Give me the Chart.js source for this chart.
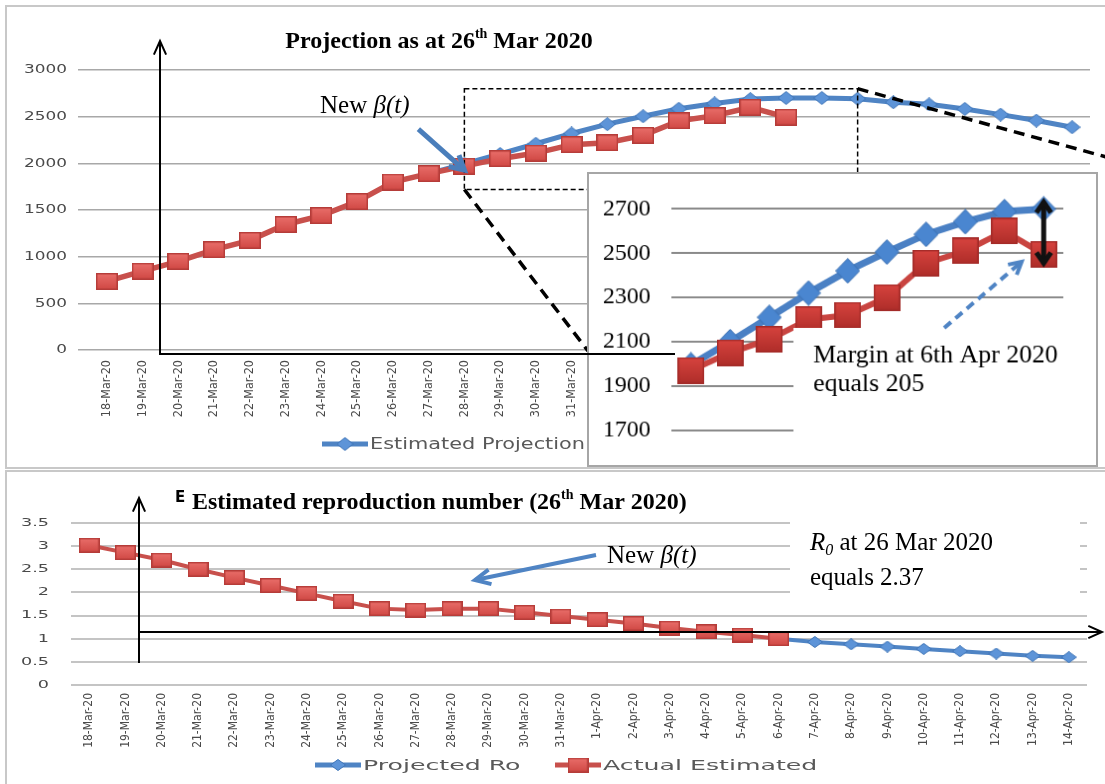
<!DOCTYPE html>
<html>
<head>
<meta charset="utf-8">
<title>Projection as at 26th Mar 2020</title>
<script src="https://cdn.jsdelivr.net/npm/chart.js@4.4.1/dist/chart.umd.min.js"></script>
<style>
  html, body { margin: 0; padding: 0; background: #fff; }
  body { position: relative; width: 1105px; height: 784px; overflow: hidden; }
  .frame { position: absolute; border: 2px solid #c8c8c8; box-sizing: border-box; }
  canvas { position: absolute; }
</style>
</head>
<body>
<div class="frame" style="left:5px;top:5px;width:1120px;height:464px"></div>
<div class="frame" style="left:5px;top:470px;width:1120px;height:330px"></div>
<canvas id="casesChart" width="1100" height="463" style="left:5px;top:5px"></canvas>
<canvas id="roChart" width="1100" height="314" style="left:5px;top:470px"></canvas>
<canvas id="zoomChart" width="511" height="295" style="left:587px;top:172px;background:#fff;border:2px solid #a6a6a6"></canvas>
<canvas id="overlay" width="1105" height="784" style="left:0;top:0;pointer-events:none"></canvas>
<script>
// data
const dates = ['18-Mar-20', '19-Mar-20', '20-Mar-20', '21-Mar-20', '22-Mar-20', '23-Mar-20', '24-Mar-20',
  '25-Mar-20', '26-Mar-20', '27-Mar-20', '28-Mar-20', '29-Mar-20', '30-Mar-20', '31-Mar-20',
  '1-Apr-20', '2-Apr-20', '3-Apr-20', '4-Apr-20', '5-Apr-20', '6-Apr-20', '7-Apr-20',
  '8-Apr-20', '9-Apr-20', '10-Apr-20', '11-Apr-20', '12-Apr-20', '13-Apr-20', '14-Apr-20'];

const actualCases = [735, 845, 950, 1075, 1175, 1345, 1440, 1590, 1800, 1890,
  1970, 2050, 2110, 2200, 2220, 2300, 2455, 2510, 2600, 2495];
const projectedCases = [null, null, null, null, null, null, null, null, null, 1890,
  1995, 2100, 2210, 2320, 2420, 2505, 2585, 2642, 2688, 2700,
  2700, 2692, 2655, 2632, 2583, 2522, 2458, 2387];

const actualRo = [3.02, 2.86, 2.70, 2.50, 2.32, 2.15, 1.98, 1.81, 1.65, 1.62,
  1.65, 1.65, 1.57, 1.49, 1.41, 1.33, 1.23, 1.15, 1.08, 1.00];
const projectedRo = [null, null, null, null, null, null, null, null, null, null,
  null, null, null, null, null, null, null, null, null, 1.00,
  0.93, 0.88, 0.83, 0.78, 0.73, 0.68, 0.63, 0.60];

const caseAxis = [0, 3000, 500];     // min, max, step
const zoomAxis = [1700, 2700, 200];
const roAxis = [0, 3.5, 0.5];

const zoomFrom = 10, zoomTo = 19;    // 28-Mar .. 6-Apr in the inset
const windowEnd = 21;                // dashed window reaches 8-Apr
const windowTop = 2800, windowBottom = 1720;

const BLUE = '#4f84c4', RED = '#c8504c', INK = '#4a4a4a';
const SERIF = '"Liberation Serif", "Times New Roman", serif';
const SANS = '"DejaVu Sans", sans-serif';
const NARROW = '"Liberation Sans Narrow", "DejaVu Sans Condensed", "Liberation Sans", sans-serif';

Chart.defaults.responsive = false;
Chart.defaults.animation = false;
Chart.defaults.events = [];
Chart.defaults.plugins.legend.display = false;
Chart.defaults.plugins.tooltip.enabled = false;

function makeSquare(w, h, top, bottom, edge) {
  const c = document.createElement('canvas');
  c.width = w; c.height = h;
  const g = c.getContext('2d');
  const grad = g.createLinearGradient(0, 0, 0, h);
  grad.addColorStop(0, top); grad.addColorStop(1, bottom);
  g.fillStyle = grad; g.fillRect(0, 0, w, h);
  g.strokeStyle = edge; g.lineWidth = 1.5; g.strokeRect(0.75, 0.75, w - 1.5, h - 1.5);
  return c;
}
function makeDiamond(w, h, fill, edge) {
  const c = document.createElement('canvas');
  c.width = w; c.height = h;
  const g = c.getContext('2d');
  g.beginPath();
  g.moveTo(w / 2, 0.5); g.lineTo(w - 0.5, h / 2); g.lineTo(w / 2, h - 0.5); g.lineTo(0.5, h / 2);
  g.closePath();
  g.fillStyle = fill; g.fill();
  g.strokeStyle = edge; g.lineWidth = 1; g.stroke();
  return c;
}

const squareTop = makeSquare(22, 17, '#ea6f6b', '#cf4743', '#b53c39');
const diamondTop = makeDiamond(17, 14, '#5d94d8', '#4176b8');
const squareZoom = makeSquare(27, 27, '#d8443f', '#ae2d29', '#a32b28');
const diamondZoom = makeDiamond(25, 26, '#4a86d0', '#3a6fb0');
const squareRo = makeSquare(21, 15, '#ea6f6b', '#cf4743', '#b53c39');
const diamondRo = makeDiamond(16, 12, '#5d94d8', '#4176b8');

function stretchText(ctx, text, x, y, sx, align) {
  const w = ctx.measureText(text).width * sx;
  const left = align === 'right' ? x - w : align === 'center' ? x - w / 2 : x;
  ctx.save();
  ctx.textAlign = 'left';
  ctx.translate(left, y); ctx.scale(sx, 1);
  ctx.fillText(text, 0, 0);
  ctx.restore();
  return left + w;
}

function richText(ctx, parts, x, y, align) {
  let total = 0;
  parts.forEach(p => { ctx.font = p[1]; total += ctx.measureText(p[0]).width; });
  let cx = align === 'center' ? x - total / 2 : x;
  ctx.textAlign = 'left'; ctx.textBaseline = 'alphabetic';
  parts.forEach(p => {
    ctx.font = p[1];
    ctx.fillText(p[0], cx, y + (p[2] || 0));
    cx += ctx.measureText(p[0]).width;
  });
}

function arrowLine(ctx, x1, y1, x2, y2, o) {
  ctx.save();
  ctx.strokeStyle = o.color; ctx.lineWidth = o.width;
  if (o.dash) ctx.setLineDash(o.dash);
  ctx.beginPath(); ctx.moveTo(x1, y1); ctx.lineTo(x2, y2); ctx.stroke();
  ctx.setLineDash([]);
  const a = Math.atan2(y2 - y1, x2 - x1), h = o.head, sp = o.spread || 0.5;
  const heads = o.both ? [[x2, y2, a], [x1, y1, a + Math.PI]] : [[x2, y2, a]];
  heads.forEach(([hx, hy, ang]) => {
    ctx.beginPath();
    ctx.moveTo(hx - h * Math.cos(ang - sp), hy - h * Math.sin(ang - sp));
    ctx.lineTo(hx, hy);
    ctx.lineTo(hx - h * Math.cos(ang + sp), hy - h * Math.sin(ang + sp));
    ctx.stroke();
  });
  ctx.restore();
}

function yLabels(chart, font, sx, gap) {
  const ctx = chart.ctx, s = chart.scales.y;
  ctx.save();
  ctx.font = font; ctx.fillStyle = INK; ctx.textBaseline = 'middle';
  s.ticks.forEach((t, i) => stretchText(ctx, String(t.value), chart.chartArea.left - gap, s.getPixelForTick(i), sx, 'right'));
  ctx.restore();
}

// items: [dataset, marker, x]
function legend(chart, items, y, font, sx) {
  const ctx = chart.ctx;
  ctx.save();
  ctx.font = font; ctx.fillStyle = '#595959'; ctx.textBaseline = 'middle';
  items.forEach(([ds, marker, x]) => {
    ctx.strokeStyle = ds.borderColor; ctx.lineWidth = 5;
    ctx.beginPath(); ctx.moveTo(x, y); ctx.lineTo(x + 46, y); ctx.stroke();
    ctx.drawImage(marker, x + 23 - marker.width / 2, y - marker.height / 2);
    stretchText(ctx, ds.label, x + 48, y + 1, sx, 'left');
  });
  ctx.restore();
}

const casesDecor = {
  id: 'casesDecor',
  afterDraw(chart) {
    const ctx = chart.ctx, xs = chart.scales.x, ys = chart.scales.y;
    yLabels(chart, '13px ' + SANS, 1.3, 22);

    ctx.save();
    ctx.fillStyle = '#000';
    richText(ctx, [['Projection as at 26', 'bold 24px ' + SERIF], ['th', 'bold 14px ' + SERIF, -10],
      [' Mar 2020', 'bold 24px ' + SERIF]], 434, 43, 'center');
    richText(ctx, [['New ', '25px ' + SERIF], ['\u03B2(t)', 'italic 25px ' + SERIF]], 315, 108);

    // dashed window that the inset zooms into
    const bx1 = xs.getPixelForValue(zoomFrom), bx2 = xs.getPixelForValue(windowEnd);
    const by1 = ys.getPixelForValue(windowTop), by2 = ys.getPixelForValue(windowBottom);
    ctx.strokeStyle = '#000'; ctx.lineWidth = 1.5; ctx.setLineDash([5, 3]);
    ctx.strokeRect(bx1, by1, bx2 - bx1, by2 - by1);
    ctx.lineWidth = 3.5; ctx.setLineDash([11, 7]);
    ctx.beginPath(); ctx.moveTo(bx1, by2); ctx.lineTo(583, 346); ctx.stroke();
    ctx.beginPath(); ctx.moveTo(bx2, by1); ctx.lineTo(1105, 153); ctx.stroke();
    ctx.setLineDash([]);

    // "New beta(t)" pointer
    const tx = xs.getPixelForValue(zoomFrom), ty = ys.getPixelForValue(actualCases[zoomFrom]) + 4;
    arrowLine(ctx, tx - 46, ty - 41, tx, ty, { color: '#4a7ebb', width: 5, head: 16, spread: 0.5 });
    ctx.restore();

    legend(chart, [[chart.data.datasets[0], diamondTop, 317], [chart.data.datasets[1], squareTop, 610]],
      439, '15px ' + SANS, 1.39);
  }
};

const zoomDecor = {
  id: 'zoomDecor',
  afterDraw(chart) {
    const ctx = chart.ctx, xs = chart.scales.x, ys = chart.scales.y;
    ctx.save();
    ctx.fillStyle = '#fff';
    ctx.fillRect(206, 156, 297, 106);

    const last = zoomTo - zoomFrom, mx = xs.getPixelForValue(last);
    arrowLine(ctx, mx, ys.getPixelForValue(projectedCases[zoomTo]) - 7, mx, ys.getPixelForValue(actualCases[zoomTo]) + 9,
      { color: '#111', width: 5, head: 13, spread: 0.6, both: true });
    arrowLine(ctx, 358, 156, 436, 89, { color: '#4f84c4', width: 4, head: 14, dash: [9, 6] });

    ctx.fillStyle = '#000';
    ctx.font = '26px ' + SERIF;
    ctx.fillText('Margin at 6th Apr 2020', 226, 191);
    ctx.fillText('equals 205', 226, 220);
    ctx.restore();
  }
};

const roDecor = {
  id: 'roDecor',
  afterDraw(chart) {
    const ctx = chart.ctx;
    yLabels(chart, '11px ' + SANS, 1.6, 22);
    ctx.save();
    ctx.fillStyle = '#000';
    ctx.font = 'bold 15px ' + SANS;
    ctx.fillText('E', 170, 32);
    richText(ctx, [['Estimated reproduction number (26', 'bold 24px ' + SERIF], ['th', 'bold 14px ' + SERIF, -10],
      [' Mar 2020)', 'bold 24px ' + SERIF]], 187, 39);

    // axes drawn over the plot
    arrowLine(ctx, 134, 193, 134, 28, { color: '#000', width: 2, head: 15, spread: 0.42 });
    arrowLine(ctx, 134, 162, 1097, 162, { color: '#000', width: 2, head: 15, spread: 0.42 });

    arrowLine(ctx, 591, 85, 470, 110, { color: '#4f84c4', width: 4, head: 17, spread: 0.45 });
    ctx.fillStyle = '#000';
    richText(ctx, [['New ', '25px ' + SERIF], ['\u03B2(t)', 'italic 25px ' + SERIF]], 602, 93);

    ctx.fillStyle = '#fff';
    ctx.fillRect(785, 44, 290, 92);
    ctx.fillStyle = '#000';
    richText(ctx, [['R', 'italic 25px ' + SERIF], ['0', 'italic 16px ' + SERIF, 5], [' at 26 Mar 2020', '25px ' + SERIF]], 805, 80);
    richText(ctx, [['equals 2.37', '25px ' + SERIF]], 805, 115);
    ctx.restore();

    legend(chart, [[chart.data.datasets[0], diamondRo, 310], [chart.data.datasets[1], squareRo, 550]],
      295, '14px ' + SANS, 1.8);
  }
};

new Chart(document.getElementById('casesChart'), {
  type: 'line',
  data: {
    labels: dates,
    datasets: [
      { label: 'Estimated Projection', data: projectedCases, borderColor: BLUE, backgroundColor: BLUE,
        borderWidth: 5, pointStyle: diamondTop, pointRadius: 8, order: 2, clip: false },
      { label: 'Actual Cases', data: actualCases, borderColor: RED, backgroundColor: RED,
        borderWidth: 5.5, pointStyle: squareTop, pointRadius: 9, order: 1, clip: false }
    ]
  },
  options: {
    layout: { padding: { left: 0, top: 65, right: 15, bottom: 0 } },
    scales: {
      x: { offset: true, grid: { display: false, drawTicks: false }, border: { display: false },
        ticks: { autoSkip: false, minRotation: 90, maxRotation: 90, padding: 10, color: INK, font: { family: NARROW, size: 12.5 } },
        afterFit: s => { s.height = 118; } },
      y: { min: caseAxis[0], max: caseAxis[1], ticks: { stepSize: caseAxis[2], display: false },
        grid: { color: '#a8a8a8', lineWidth: 1.5, tickLength: 11 }, border: { display: false },
        afterFit: s => { s.width = 84; } }
    }
  },
  plugins: [casesDecor]
});

new Chart(document.getElementById('zoomChart'), {
  type: 'line',
  data: {
    labels: dates.slice(zoomFrom, zoomTo + 1),
    datasets: [
      { label: 'Estimated Projection', data: projectedCases.slice(zoomFrom, zoomTo + 1), borderColor: '#4a80c4',
        borderWidth: 7, pointStyle: diamondZoom, pointRadius: 12, order: 2, clip: false },
      { label: 'Actual Cases', data: actualCases.slice(zoomFrom, zoomTo + 1), borderColor: '#c94440',
        borderWidth: 6, pointStyle: squareZoom, pointRadius: 13, order: 1, clip: false }
    ]
  },
  options: {
    layout: { padding: { left: 0, top: 29, right: 33, bottom: 31 } },
    scales: {
      x: { display: false, offset: true },
      y: { min: zoomAxis[0], max: zoomAxis[1],
        ticks: { stepSize: zoomAxis[2], padding: 21, color: '#000', font: { family: SERIF, size: 24 }, callback: v => String(v) },
        grid: { color: '#8a8a8a', lineWidth: 2, drawTicks: false }, border: { display: false },
        afterFit: s => { s.width = 83; } }
    }
  },
  plugins: [zoomDecor]
});

new Chart(document.getElementById('roChart'), {
  type: 'line',
  data: {
    labels: dates,
    datasets: [
      { label: 'Projected Ro', data: projectedRo, borderColor: BLUE, backgroundColor: BLUE,
        borderWidth: 4, pointStyle: diamondRo, pointRadius: 7, order: 2, clip: false },
      { label: 'Actual Estimated', data: actualRo, borderColor: RED, backgroundColor: RED,
        borderWidth: 4, pointStyle: squareRo, pointRadius: 8, order: 1, clip: false }
    ]
  },
  options: {
    layout: { padding: { left: 0, top: 53, right: 18, bottom: 0 } },
    scales: {
      x: { offset: true, grid: { display: false, drawTicks: false }, border: { display: false },
        ticks: { autoSkip: false, minRotation: 90, maxRotation: 90, padding: 8, color: INK, font: { family: NARROW, size: 12 } },
        afterFit: s => { s.height = 99; } },
      y: { min: roAxis[0], max: roAxis[1], ticks: { stepSize: roAxis[2], display: false },
        grid: { color: '#c4c4c4', lineWidth: 2, drawTicks: false }, border: { display: false },
        afterFit: s => { s.width = 66; } }
    }
  },
  plugins: [roDecor]
});

// axes sketched over the top panel and the inset
const ov = document.getElementById('overlay').getContext('2d');
arrowLine(ov, 160, 354, 160, 41, { color: '#000', width: 2, head: 15, spread: 0.42 });
ov.strokeStyle = '#000'; ov.lineWidth = 2;
ov.beginPath(); ov.moveTo(159, 354); ov.lineTo(675, 354); ov.stroke();
</script>
</body>
</html>
